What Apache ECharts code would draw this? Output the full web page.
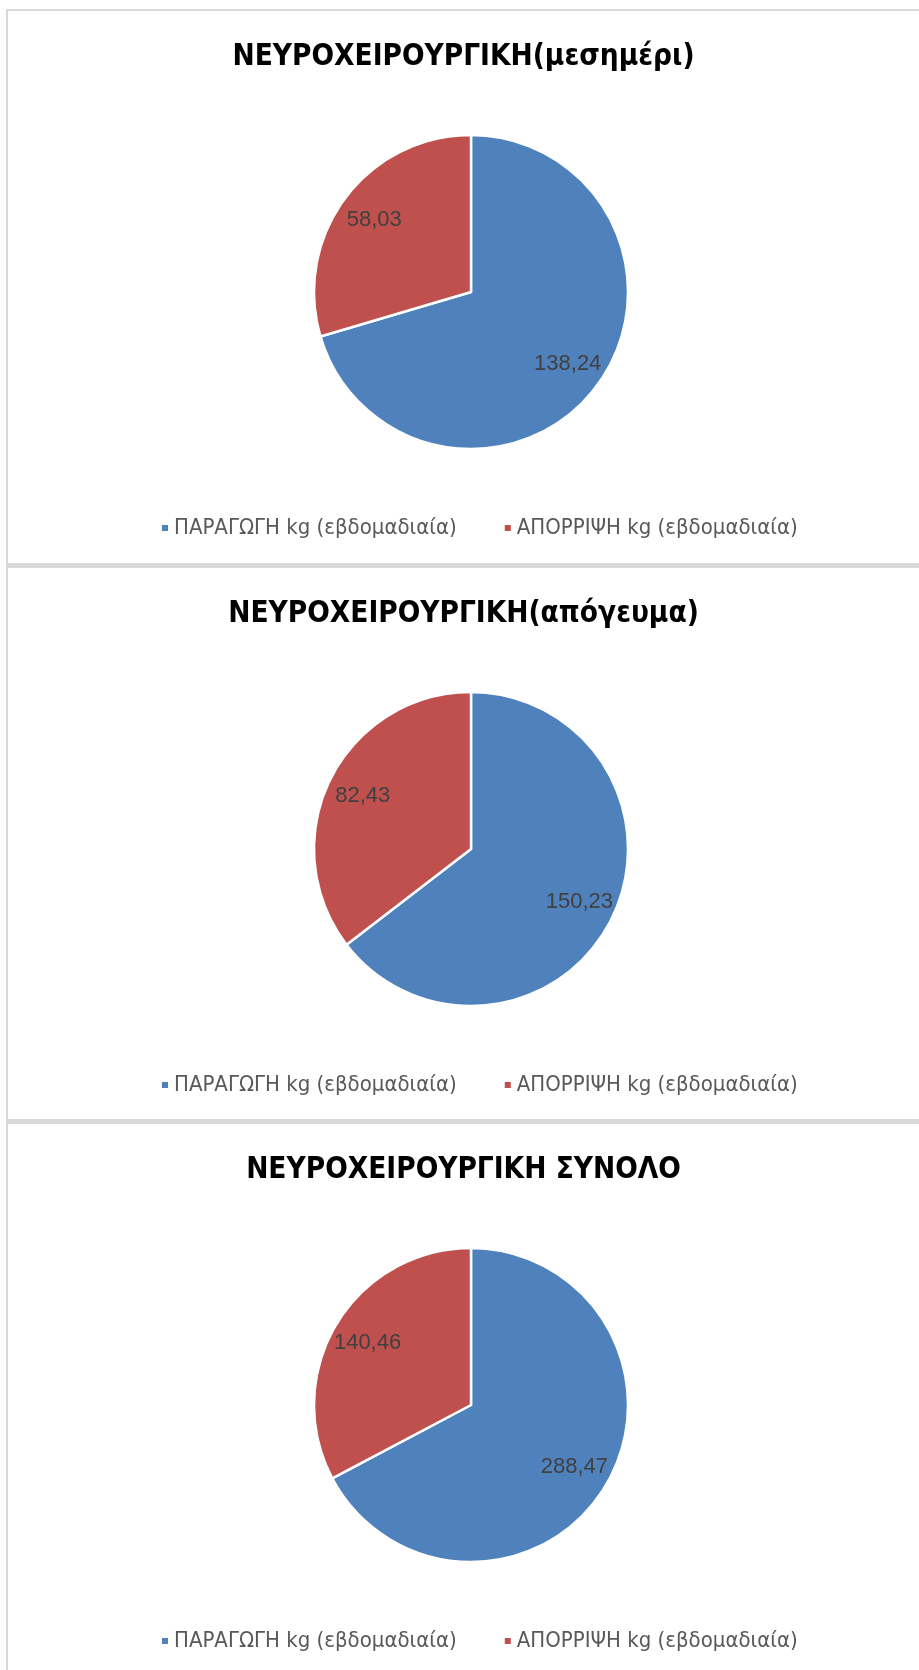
<!DOCTYPE html>
<html>
<head>
<meta charset="utf-8">
<script src="https://cdn.jsdelivr.net/npm/echarts@6/dist/echarts.min.js"></script>
<style>
  html, body { margin: 0; padding: 0; background: #ffffff; }
  body { width: 919px; height: 1670px; position: relative; overflow: hidden; }
  .frame { position: absolute; left: 6px; top: 9px; right: 0; bottom: 0;
           border-left: 2px solid #d9d9d9; border-top: 2px solid #d9d9d9; }
  .panel { position: absolute; left: 8px; width: 911px; background: #ffffff; }
  .sep { position: absolute; left: 8px; width: 911px; height: 5px; background: #d9d9d9; }
</style>
</head>
<body>
<div class="frame"></div>
<div class="panel" id="p0" style="top:11px;height:552px"></div>
<div class="sep" style="top:563px"></div>
<div class="panel" id="p1" style="top:568px;height:551px"></div>
<div class="sep" style="top:1119px"></div>
<div class="panel" id="p2" style="top:1124px;height:546px"></div>
<script>
// Weekly neurosurgery waste figures (kg)
const categories = ['ΠΑΡΑΓΩΓΗ kg (εβδομαδιαία)', 'ΑΠΟΡΡΙΨΗ kg (εβδομαδιαία)'];
const titles = ['ΝΕΥΡΟΧΕΙΡΟΥΡΓΙΚΗ(μεσημέρι)', 'ΝΕΥΡΟΧΕΙΡΟΥΡΓΙΚΗ(απόγευμα)', 'ΝΕΥΡΟΧΕΙΡΟΥΡΓΙΚΗ ΣΥΝΟΛΟ'];
const middayValues = [138.24, 58.03];
const afternoonValues = [150.23, 82.43];
const totalValues = [288.47, 140.46];

const colors = ['#4f81bd', '#c0504d'];
const panels = [middayValues, afternoonValues, totalValues];

const R = 157;
const CENTER = [463, 281];
const NARROW = '"Liberation Sans Narrow", "DejaVu Sans Condensed", "Liberation Sans", sans-serif';

function fmt(v) { return v.toFixed(2).replace('.', ','); }

function buildOption(title, values) {
  const data = categories.map((name, i) => ({ name: name, value: values[i] }));
  return {
    animation: false,
    color: colors,
    title: {
      text: title,
      left: 'center',
      top: 26,
      textStyle: { fontFamily: NARROW, fontWeight: 'bold', fontSize: 29.5, color: '#000000' }
    },
    legend: {
      data: categories,
      left: 147,
      top: 501,
      icon: 'rect',
      itemWidth: 8,
      itemHeight: 8,
      itemGap: 46,
      textStyle: { fontFamily: NARROW, fontSize: 22, color: '#595959' }
    },
    series: [
      {
        // the slices
        type: 'pie',
        center: CENTER,
        radius: [0, R],
        startAngle: 90,
        clockwise: true,
        data: data,
        itemStyle: { borderColor: '#ffffff', borderWidth: 2.5 },
        label: { show: false },
        labelLine: { show: false },
        emphasis: { disabled: true }
      },
      {
        // transparent ring carrying the value labels at ~3/4 of the radius
        type: 'pie',
        center: CENTER,
        radius: [R * 0.50, R],
        startAngle: 90,
        clockwise: true,
        silent: true,
        legendHoverLink: false,
        data: data,
        itemStyle: { color: 'rgba(0,0,0,0)', borderWidth: 0 },
        label: {
          show: true,
          position: 'inside',
          formatter: p => fmt(p.value),
          fontFamily: '"Liberation Sans", sans-serif',
          fontSize: 22,
          color: '#404040'
        },
        labelLine: { show: false },
        emphasis: { disabled: true }
      }
    ]
  };
}

panels.forEach((values, i) => {
  const chart = echarts.init(document.getElementById('p' + i), null, { renderer: 'canvas' });
  chart.setOption(buildOption(titles[i], values));
});
</script>
</body>
</html>
